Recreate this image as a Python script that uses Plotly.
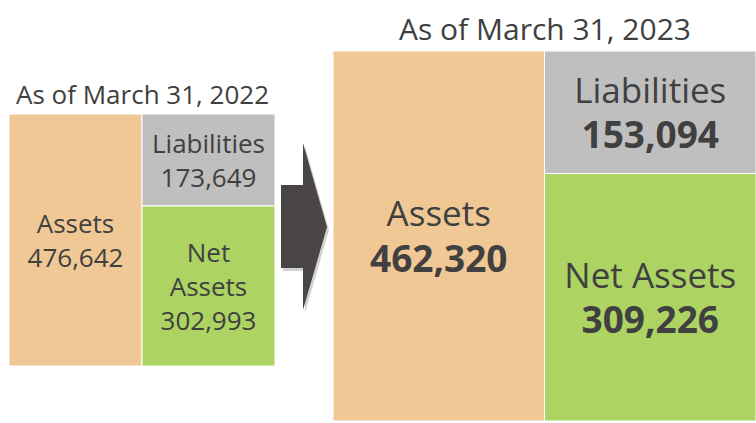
import plotly.graph_objects as go

# ---- data ----
years = ["As of March 31, 2022", "As of March 31, 2023"]
assets = [476642, 462320]
liabilities = [173649, 153094]
net_assets = [302993, 309226]

C_ASSET = "#F0C896"
C_LIAB = "#BFBFBF"
C_NET = "#ADD462"
TXT = "#404040"
FONT = "Open Sans"

fig = go.Figure()

def fmt(v, bold):
    s = f"{v:,}"
    return f"<b><span style='font-size:37px'>{s}</span></b>" if bold else s

panels = [("x", "y", 0, False, 26, [26, 26, 26]), ("x2", "y2", 1, True, 30, [35, 35, 35])]
for xa, ya, i, bold, tsize, sizes in panels:
    line = dict(color="white", width=1)
    fig.add_trace(go.Bar(
        x=[0], y=[assets[i]], base=[0], width=[1], xaxis=xa, yaxis=ya,
        marker=dict(color=C_ASSET, line=line),
        text=["Assets<br>" + fmt(assets[i], bold)], textposition="inside",
        insidetextanchor="middle", textangle=0,
        textfont=dict(family=FONT, size=sizes[0], color=TXT), hoverinfo="skip"))
    fig.add_trace(go.Bar(
        x=[1], y=[net_assets[i]], base=[0], width=[1], xaxis=xa, yaxis=ya,
        marker=dict(color=C_NET, line=line),
        text=[("Net Assets<br>" if bold else "Net<br>Assets<br>") + fmt(net_assets[i], bold)],
        textposition="inside", insidetextanchor="middle", textangle=0,
        textfont=dict(family=FONT, size=sizes[2], color=TXT), hoverinfo="skip"))
    fig.add_trace(go.Bar(
        x=[1], y=[liabilities[i]], base=[net_assets[i]], width=[1], xaxis=xa, yaxis=ya,
        marker=dict(color=C_LIAB, line=line),
        text=["Liabilities<br>" + fmt(liabilities[i], bold)], textposition="inside",
        insidetextanchor="middle", textangle=0,
        textfont=dict(family=FONT, size=sizes[1], color=TXT), hoverinfo="skip"))
    fig.add_annotation(text=years[i], xref=xa, x=0.5, yref=f"{ya} domain", y=1,
                       yanchor="bottom", xanchor="center", showarrow=False, yshift=0,
                       font=dict(family=FONT, size=tsize, color=TXT))

W, H = 756, 423
def px(x):
    return x / W
def py(y):
    return (H - y) / H

ax_common = dict(visible=False, fixedrange=True)
fig.update_layout(
    width=W, height=H, autosize=False,
    margin=dict(l=0, r=0, t=0, b=0),
    paper_bgcolor="white", plot_bgcolor="rgba(0,0,0,0)",
    showlegend=False, barmode="overlay", uniformtext=dict(mode=False),
    xaxis=dict(domain=[px(9), px(275)], range=[-0.5, 1.5], anchor="y", **ax_common),
    yaxis=dict(domain=[py(366), py(114)], range=[0, assets[0]], anchor="x", **ax_common),
    xaxis2=dict(domain=[px(333), px(756)], range=[-0.5, 1.5], anchor="y2", **ax_common),
    yaxis2=dict(domain=[py(421), py(51)], range=[0, assets[1]], anchor="x2", **ax_common),
)

# arrow (decoration)
def arrow_path(dx=0, dy=0):
    pts = [(281, 185), (303, 185), (303, 143), (327, 227), (303, 310), (303, 268), (281, 268)]
    return "M " + " L ".join(f"{px(x + dx)},{py(y + dy)}" for x, y in pts) + " Z"

fig.add_shape(type="path", xref="paper", yref="paper", path=arrow_path(2, 3),
              fillcolor="rgba(0,0,0,0.18)", line=dict(width=0), layer="below")
fig.add_shape(type="path", xref="paper", yref="paper", path=arrow_path(),
              fillcolor="#4A4646", line=dict(width=0), layer="above")

fig.write_html("out.html", config={"displayModeBar": False},
               post_script="document.body.style.margin='0';document.body.style.overflow='hidden';")
